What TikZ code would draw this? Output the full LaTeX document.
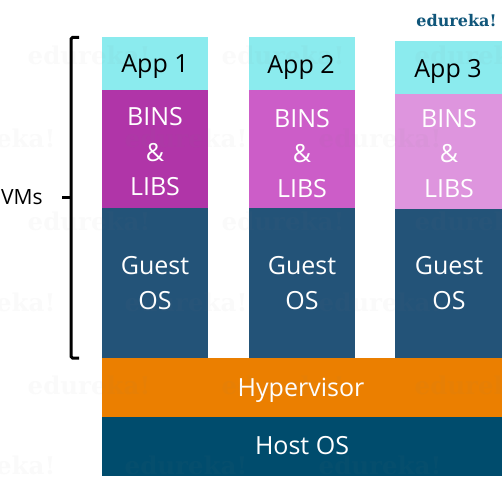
\documentclass[tikz,border=0pt]{standalone}
\usepackage{fontspec}
\setmainfont{Open Sans}
\newfontfamily\logofont{DejaVu Serif}[BoldFont={DejaVu Serif Bold}]
\definecolor{appc}{HTML}{8BEBEE}
\definecolor{binsa}{HTML}{B035A8}
\definecolor{binsb}{HTML}{CC5DC8}
\definecolor{binsc}{HTML}{DE95DE}
\definecolor{guestc}{HTML}{235378}
\definecolor{hyperc}{HTML}{EB7F00}
\definecolor{hostc}{HTML}{004C6D}
\definecolor{logoc}{HTML}{10567A}
\tikzset{
  px/.style={x=1pt,y=-1pt},
  block/.style={draw=none,inner sep=0pt,outer sep=0pt,anchor=north west},
  lbl/.style={inner sep=0pt,font=\fontsize{25}{25}\selectfont,text=white},
  lbldark/.style={lbl,text=black},
  wm/.style={inner sep=0pt,text=gray,text opacity=0.045,font=\logofont\bfseries\fontsize{24.5}{24.5}\selectfont},
  bracket/.style={draw=black,line width=3pt,rounded corners=1.5pt}
}
\newcommand{\blk}[6]{\node[block,fill=#6,minimum width=#4pt,minimum height=#5pt] (#1) at #2 {};}
\begin{document}
\begin{tikzpicture}[px]
\useasboundingbox (0,0) rectangle (502,476);
% layers
\blk{appA}{(102,37)}{}{106}{53}{appc}
\blk{binA}{(102,90)}{}{106}{118}{binsa}
\blk{osA}{(102,208)}{}{106}{150}{guestc}
\blk{appB}{(249,37)}{}{106}{53}{appc}
\blk{binB}{(249,90)}{}{106}{118}{binsb}
\blk{osB}{(249,208)}{}{106}{150}{guestc}
\blk{appC}{(395,41)}{}{107}{53}{appc}
\blk{binC}{(395,94)}{}{107}{115}{binsc}
\blk{osC}{(395,209)}{}{107}{149}{guestc}
\blk{hyp}{(102,358)}{}{400}{59}{hyperc}
\blk{host}{(102,417)}{}{400}{59}{hostc}
% labels
\node[lbldark] (tA) at (155,67) {App 1};
\node[lbldark] (tB) at (301,67) {App 2};
\node[lbldark] (tC) at (448,71) {App 3};
\foreach \n/\x/\a/\b/\c in {A/155/117/153/187,B/302/119/154/189,C/449/119/154/189}{
  \node[lbl] (b1\n) at (\x,\a) {BINS};
  \node[lbl] (b2\n) at (\x,\b) {\&};
  \node[lbl] (b3\n) at (\x,\c) {LIBS};
}
\foreach \n/\x in {A/155,B/302,C/449}{
  \node[lbl] (g1\n) at (\x,266) {Guest};
  \node[lbl] (g2\n) at (\x,301) {OS};
}
\node[lbl] (tH) at (301,390) {Hypervisor};
\node[lbl] (tO) at (302,446) {Host OS};
% watermarks
\begin{scope}
\clip (0,0) rectangle (502,476);
\foreach \y in {55,221,385}{
  \foreach \x in {89,283,476}{
    \node[wm] at (\x,\y) {edureka!};
  }
}
\foreach \y in {138,302,465}{
  \foreach \x in {-6,186,380}{
    \node[wm] at (\x,\y) {edureka!};
  }
}
\end{scope}
% bracket
\coordinate (brT) at (79,37.5);
\coordinate (brTc) at (71,37.5);
\coordinate (brB) at (79,358);
\coordinate (brBc) at (71,358);
\coordinate (brM) at (71,197);
\coordinate (brS) at (62,197);
\draw[bracket] (brT) -- (brTc) -- (brBc) -- (brB);
\draw[draw=black,line width=3pt] (brS) -- (brM);
\node[inner sep=0pt,anchor=west,font=\fontsize{21}{21}\selectfont] (vms) at (1,197) {VMs};
% logo
\node[inner sep=0pt,text=logoc,font=\logofont\bfseries\fontsize{16}{16}\selectfont] (logo) at (456.5,20.5) {edureka!};
\end{tikzpicture}
\end{document}
